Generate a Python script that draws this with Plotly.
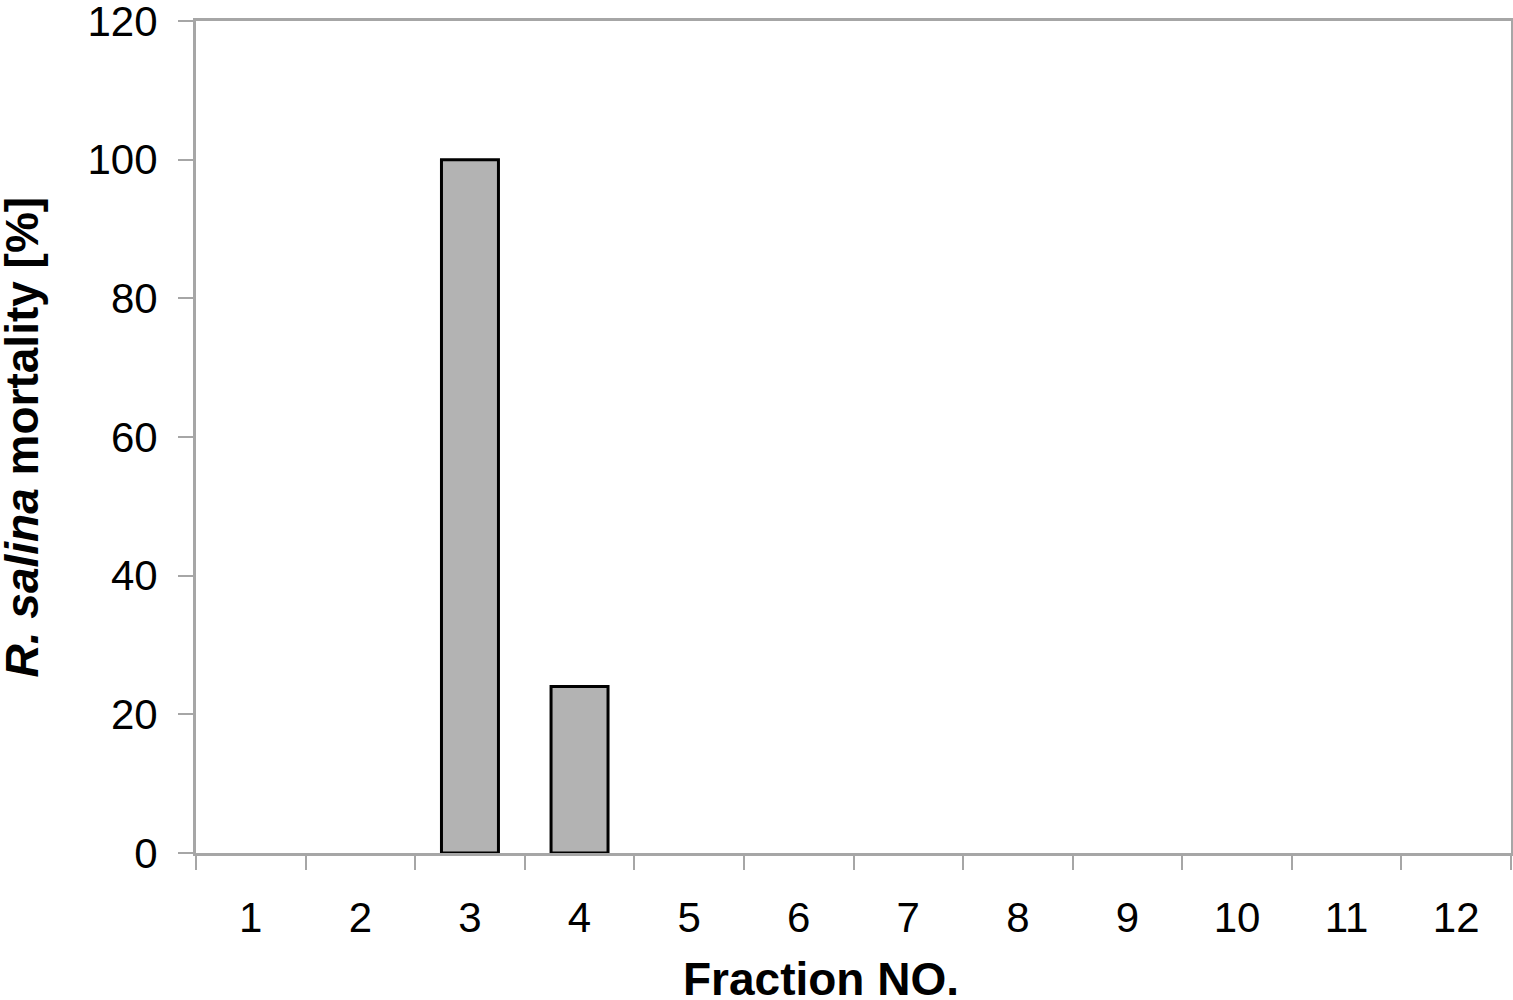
import plotly.graph_objects as go

# dados
fractions = ["1", "2", "3", "4", "5", "6", "7", "8", "9", "10", "11", "12"]
mortality = [0, 0, 100, 24, 0, 0, 0, 0, 0, 0, 0, 0]
y_ticks = [0, 20, 40, 60, 80, 100, 120]

FONT = "Liberation Sans, Arial, sans-serif"
GRAY = "#a6a6a6"

# barras com valor zero não têm contorno visível no original
contorno = [3 if v > 0 else 0 for v in mortality]

fig = go.Figure(go.Bar(
    x=fractions,
    y=mortality,
    marker=dict(color="#b3b3b3", line=dict(color="black", width=contorno)),
    showlegend=False,
))

fig.update_layout(
    width=1513,
    height=1000,
    margin=dict(l=196, r=2, t=21, b=147),
    plot_bgcolor="white",
    paper_bgcolor="white",
    bargap=0.48,
    font=dict(family=FONT, size=42, color="black"),
    xaxis=dict(
        type="category",
        tickson="boundaries",
        ticks="outside",
        ticklen=14,
        tickcolor=GRAY,
        tickwidth=1.5,
        showline=True,
        linecolor=GRAY,
        linewidth=3,
        mirror=True,
        showgrid=False,
        automargin=False,
        ticklabelstandoff=26,
        tickfont=dict(size=42),
    ),
    yaxis=dict(
        range=[0, 120],
        tickvals=y_ticks,
        ticks="outside",
        ticklen=15,
        tickcolor=GRAY,
        tickwidth=1.5,
        showline=True,
        linecolor=GRAY,
        linewidth=3,
        mirror=True,
        showgrid=False,
        zeroline=False,
        automargin=False,
        ticklabeloverflow="allow",
        ticklabelstandoff=12,
        tickfont=dict(size=42),
    ),
)

# títulos dos eixos como anotações (sem automargin o standoff é ignorado)
fig.add_annotation(
    text="<b>Fraction NO.</b>",
    xref="paper", yref="paper", x=0.475, y=-0.152,
    xanchor="center", yanchor="middle", showarrow=False,
    font=dict(size=46),
)
fig.add_annotation(
    text="<b><i>R. salina</i> mortality [%]</b>",
    xref="paper", yref="paper", x=-0.132, y=0.5,
    xanchor="center", yanchor="middle", showarrow=False,
    textangle=-90, font=dict(size=46),
)

# tira a margem padrão do body para a figura ocupar a janela inteira
fig.write_html(
    "out.html",
    config={"displayModeBar": False},
    post_script="document.body.style.margin='0';document.body.style.overflow='hidden';",
)
